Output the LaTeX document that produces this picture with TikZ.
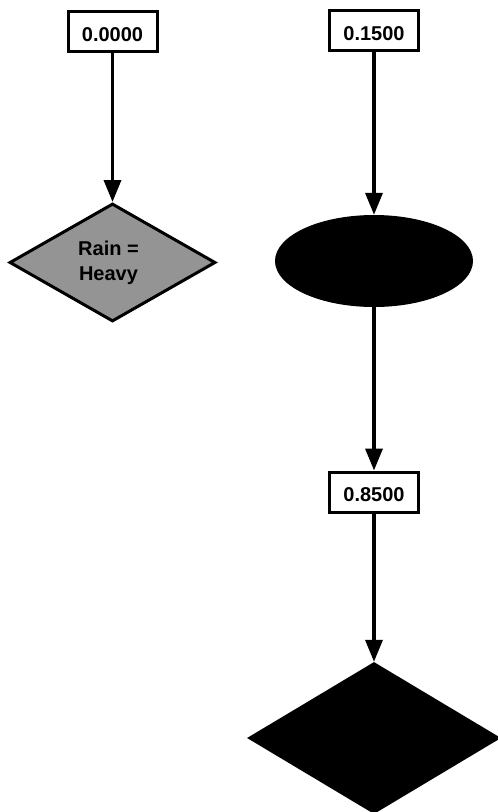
\documentclass[tikz,border=0pt]{standalone}
\usepackage{fontspec}
\setmainfont{Liberation Sans}
\usetikzlibrary{shapes.geometric,arrows.meta}
\begin{document}
\begin{tikzpicture}[x=1pt,y=-1pt,
  valbox/.style={draw, line width=3pt, fill=white, minimum width=89pt, minimum height=40pt, inner sep=0pt, text height=19pt, text depth=0pt, font=\fontsize{20}{24}\selectfont\bfseries},
  decision/.style={diamond, aspect=1.75, inner sep=0pt},
  flow/.style={line width=3.5pt, -{Triangle[length=22pt,width=17pt]}}]
\useasboundingbox (0,0) rectangle (498,812);
\node[valbox] (b1) at (112.5,31.5) {0.0000};
\node[decision, draw, line width=3pt, fill=black!42, minimum width=206pt, minimum height=118pt, align=center, font=\fontsize{20}{25}\selectfont\bfseries] (d1) at (112.5,262.5) {Rain =\hspace*{8pt}\\Heavy\hspace*{8pt}};
\node[valbox] (b2) at (374,30.5) {0.1500};
\node[ellipse, fill=black, minimum width=198pt, minimum height=92pt, inner sep=0pt] (e1) at (374,261) {};
\node[valbox] (b3) at (374,492) {0.8500};
\node[decision, fill=black, minimum width=254pt, minimum height=152pt] (d2) at (374,738) {};
\draw[flow] (b1) -- (d1);
\draw[flow] (b2) -- (e1);
\draw[flow] (e1) -- (b3);
\draw[flow] (b3) -- (d2);
\end{tikzpicture}
\end{document}
